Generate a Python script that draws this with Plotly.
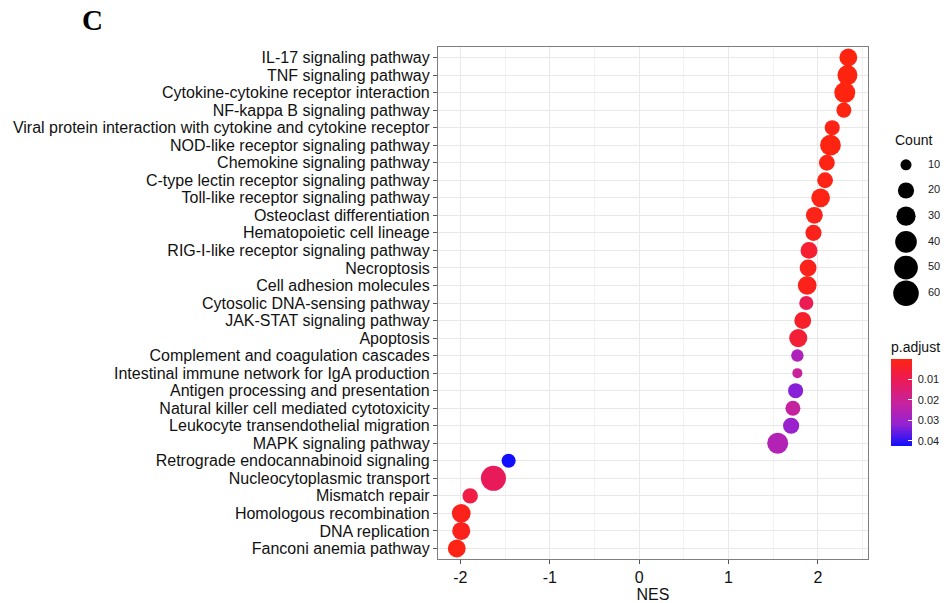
import numpy as np
import plotly.graph_objects as go

pathways = [
    "IL-17 signaling pathway",
    "TNF signaling pathway",
    "Cytokine-cytokine receptor interaction",
    "NF-kappa B signaling pathway",
    "Viral protein interaction with cytokine and cytokine receptor",
    "NOD-like receptor signaling pathway",
    "Chemokine signaling pathway",
    "C-type lectin receptor signaling pathway",
    "Toll-like receptor signaling pathway",
    "Osteoclast differentiation",
    "Hematopoietic cell lineage",
    "RIG-I-like receptor signaling pathway",
    "Necroptosis",
    "Cell adhesion molecules",
    "Cytosolic DNA-sensing pathway",
    "JAK-STAT signaling pathway",
    "Apoptosis",
    "Complement and coagulation cascades",
    "Intestinal immune network for IgA production",
    "Antigen processing and presentation",
    "Natural killer cell mediated cytotoxicity",
    "Leukocyte transendothelial migration",
    "MAPK signaling pathway",
    "Retrograde endocannabinoid signaling",
    "Nucleocytoplasmic transport",
    "Mismatch repair",
    "Homologous recombination",
    "DNA replication",
    "Fanconi anemia pathway",
]
nes = [2.34, 2.33, 2.30, 2.29, 2.16, 2.14, 2.10, 2.08, 2.03, 1.96, 1.95,
       1.90, 1.89, 1.88, 1.87, 1.83, 1.78, 1.77, 1.77, 1.75, 1.72, 1.70,
       1.55, -1.46, -1.63, -1.89, -1.99, -1.99, -2.04]
counts = [25, 33, 37, 17, 17, 36, 19, 19, 28, 22, 20, 22, 22, 28, 15, 22,
          26, 12, 9, 17, 17, 20, 37, 15, 57, 18, 28, 26, 25]
padj = [0.0002, 0.0002, 0.0002, 0.0005, 0.0008, 0.0005, 0.001, 0.001, 0.001,
        0.0015, 0.002, 0.005, 0.002, 0.002, 0.010, 0.004, 0.006, 0.027,
        0.021, 0.033, 0.022, 0.031, 0.026, 0.0425, 0.011, 0.008, 0.002,
        0.002, 0.001]

count_breaks = [10, 20, 30, 40, 50, 60]
padj_ticks = [0.01, 0.02, 0.03, 0.04]


def diam(c):
    c = np.asarray(c, dtype=float)
    return 7.5 + 18.9 * np.sqrt(np.clip((c - 8) / 57.0, 0, None))


# red (low p) -> blue (high p); values negated so red sits on top of the bar
cscale = [[0.0, "#1010FF"], [0.25, "#9522D2"], [0.5, "#C8229C"],
          [0.75, "#EA1A58"], [1.0, "#FF2410"]]
neg_p = [-p for p in padj]

FONT = "Liberation Sans, Arial, sans-serif"
fig = go.Figure()

fig.add_trace(go.Scatter(
    x=nes, y=pathways, mode="markers",
    marker=dict(size=diam(counts), sizemode="diameter", color=neg_p,
                opacity=1, colorscale=cscale,
                cmin=-max(padj), cmax=-min(padj),
                line=dict(width=0),
                colorbar=dict(
                    title=dict(text="p.adjust", side="top",
                               font=dict(size=14, color="#111", family=FONT)),
                    x=0.906, xanchor="left", y=0.2207, yanchor="bottom",
                    len=108, lenmode="pixels", thickness=21,
                    xpad=0, ypad=0,
                    outlinewidth=0, ticks="inside", ticklen=4,
                    tickcolor="white", tickwidth=1,
                    tickvals=[-t for t in padj_ticks],
                    ticktext=[" " + str(t) for t in padj_ticks],
                    tickfont=dict(size=11, color="#222", family=FONT))),
    showlegend=False, xaxis="x", yaxis="y"))

# size legend
leg_labels = [str(c) for c in count_breaks]
fig.add_trace(go.Scatter(
    x=[0] * len(count_breaks), y=leg_labels, mode="markers",
    marker=dict(size=diam(count_breaks), sizemode="diameter", color="black",
                opacity=1, line=dict(width=0)),
    cliponaxis=False,
    showlegend=False, xaxis="x2", yaxis="y2", hoverinfo="skip"))
fig.add_trace(go.Scatter(
    x=[22] * len(count_breaks), y=leg_labels, mode="text", text=leg_labels,
    textposition="middle right", cliponaxis=False,
    textfont=dict(size=11, color="#222", family=FONT),
    showlegend=False, xaxis="x2", yaxis="y2", hoverinfo="skip"))

fig.update_layout(
    width=948, height=603,
    margin=dict(l=438, r=10, t=47, b=44, autoexpand=False),
    paper_bgcolor="white", plot_bgcolor="white",
    font=dict(family=FONT, color="#111"),
    xaxis=dict(domain=[0, 0.86], range=[-2.25, 2.56],
               tickvals=[-2, -1, 0, 1, 2], ticktext=["-2", "-1", "0", "1", "2"],
               showgrid=True, gridcolor="#E8E8E8", gridwidth=1.1,
               minor=dict(dtick=0.5, tick0=0.5, showgrid=True,
                          gridcolor="#F2F2F2", gridwidth=0.6),
               zeroline=False, showline=True, mirror=True,
               linecolor="#7F7F7F", linewidth=1.2,
               ticks="outside", ticklen=4, tickcolor="#555",
               tickfont=dict(size=16, color="#111"), automargin=False,
               title=dict(text="NES", font=dict(size=16, color="#111"),
                          standoff=1)),
    yaxis=dict(domain=[0, 1], type="category", categoryorder="array",
               categoryarray=pathways, range=[len(pathways) - 0.4, -0.6],
               tickmode="array", tickvals=pathways, ticktext=pathways,
               showgrid=True, gridcolor="#E8E8E8", gridwidth=1.1,
               zeroline=False, showline=True, mirror=True,
               linecolor="#7F7F7F", linewidth=1.2,
               ticks="outside", ticklen=4, tickcolor="#555",
               tickfont=dict(size=16, color="#111"), automargin=False),
    xaxis2=dict(domain=[0.88, 1.0], range=[-28, 32], visible=False,
                anchor="y2"),
    yaxis2=dict(domain=[0.494, 0.795], type="category",
                categoryorder="array", categoryarray=leg_labels,
                range=[5.5, -0.5], visible=False, anchor="x2"),
    annotations=[
        dict(text="Count", x=0.91, y=0.818, xref="paper", yref="paper",
             xanchor="left", yanchor="middle", showarrow=False,
             font=dict(size=14, color="#111", family=FONT)),
        dict(text="<b>C</b>", x=-0.692, y=1.053, xref="paper", yref="paper",
             xanchor="center", yanchor="middle", showarrow=False,
             font=dict(size=29, color="black",
                       family="Liberation Serif, Times New Roman, serif")),
    ],
)

fig.write_html("out.html", config={"displayModeBar": False},
               post_script="document.body.style.margin='0';"
                           "document.body.style.padding='0';"
                           "document.body.style.overflow='hidden';")
